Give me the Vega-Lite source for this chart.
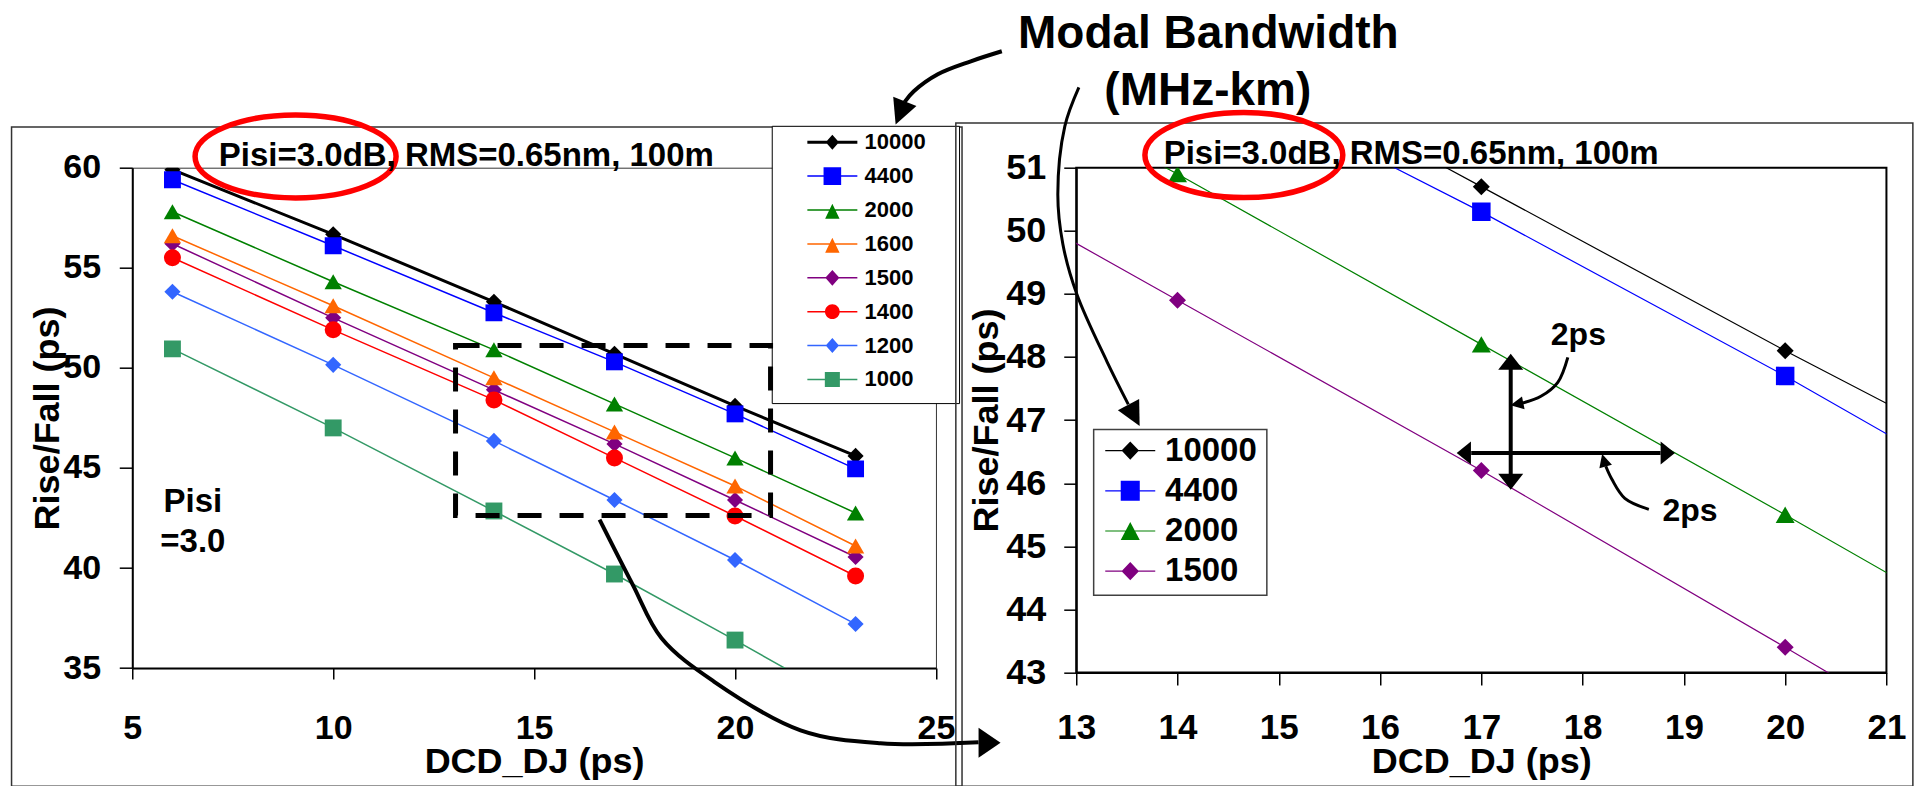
{
  "$schema": "https://vega.github.io/schema/vega-lite/v6.json",
  "background": "white",
  "padding": {"left": 10.25, "top": 9.7, "right": 0, "bottom": 0},
  "bounds": "flush",
  "spacing": 140,
  "config": {
    "font": "Liberation Sans",
    "axis": {"labelFont": "Liberation Sans", "titleFont": "Liberation Sans", "labelFontWeight": "bold", "titleFontWeight": "bold", "labelColor": "black", "titleColor": "black", "domainColor": "black", "tickColor": "black", "labelFlush": false, "labelOverlap": false, "format": "d"},
    "legend": {"labelFont": "Liberation Sans", "labelFontWeight": "bold", "labelColor": "black"}
  },
  "datasets": {
    "rf": [
      {"bw": "10000", "dcd": 6, "rf": 59.9}, {"bw": "10000", "dcd": 10, "rf": 56.67}, {"bw": "10000", "dcd": 14, "rf": 53.3}, {"bw": "10000", "dcd": 17, "rf": 50.7}, {"bw": "10000", "dcd": 20, "rf": 48.1}, {"bw": "10000", "dcd": 23, "rf": 45.6},
      {"bw": "4400", "dcd": 6, "rf": 59.4}, {"bw": "4400", "dcd": 10, "rf": 56.1}, {"bw": "4400", "dcd": 14, "rf": 52.75}, {"bw": "4400", "dcd": 17, "rf": 50.3}, {"bw": "4400", "dcd": 20, "rf": 47.7}, {"bw": "4400", "dcd": 23, "rf": 44.95},
      {"bw": "2000", "dcd": 6, "rf": 57.8}, {"bw": "2000", "dcd": 10, "rf": 54.3}, {"bw": "2000", "dcd": 14, "rf": 50.9}, {"bw": "2000", "dcd": 17, "rf": 48.2}, {"bw": "2000", "dcd": 20, "rf": 45.5}, {"bw": "2000", "dcd": 23, "rf": 42.75},
      {"bw": "1600", "dcd": 6, "rf": 56.6}, {"bw": "1600", "dcd": 10, "rf": 53.1}, {"bw": "1600", "dcd": 14, "rf": 49.5}, {"bw": "1600", "dcd": 17, "rf": 46.8}, {"bw": "1600", "dcd": 20, "rf": 44.1}, {"bw": "1600", "dcd": 23, "rf": 41.1},
      {"bw": "1500", "dcd": 6, "rf": 56.2}, {"bw": "1500", "dcd": 10, "rf": 52.5}, {"bw": "1500", "dcd": 14, "rf": 48.9}, {"bw": "1500", "dcd": 17, "rf": 46.2}, {"bw": "1500", "dcd": 20, "rf": 43.4}, {"bw": "1500", "dcd": 23, "rf": 40.55},
      {"bw": "1400", "dcd": 6, "rf": 55.5}, {"bw": "1400", "dcd": 10, "rf": 51.9}, {"bw": "1400", "dcd": 14, "rf": 48.4}, {"bw": "1400", "dcd": 17, "rf": 45.5}, {"bw": "1400", "dcd": 20, "rf": 42.6}, {"bw": "1400", "dcd": 23, "rf": 39.6},
      {"bw": "1200", "dcd": 6, "rf": 53.8}, {"bw": "1200", "dcd": 10, "rf": 50.15}, {"bw": "1200", "dcd": 14, "rf": 46.35}, {"bw": "1200", "dcd": 17, "rf": 43.4}, {"bw": "1200", "dcd": 20, "rf": 40.4}, {"bw": "1200", "dcd": 23, "rf": 37.2},
      {"bw": "1000", "dcd": 6, "rf": 50.95}, {"bw": "1000", "dcd": 10, "rf": 47.0}, {"bw": "1000", "dcd": 14, "rf": 42.85}, {"bw": "1000", "dcd": 17, "rf": 39.7}, {"bw": "1000", "dcd": 20, "rf": 36.4}, {"bw": "1000", "dcd": 23, "rf": 33.0}
    ],
    "zoomArrow": [
      {"o": 1, "dcd": 16.629, "rf": 42.419}, {"o": 2, "dcd": 17.45, "rf": 39.186}, {"o": 3, "dcd": 18.172, "rf": 36.489}, {"o": 4, "dcd": 19.466, "rf": 34.341},
      {"o": 5, "dcd": 21.631, "rf": 31.892}, {"o": 6, "dcd": 23.621, "rf": 31.243}, {"o": 7, "dcd": 26.06, "rf": 31.293}
    ],
    "bwArrowL": [
      {"o": 1, "dcd": 12.265, "rf": 52.845}, {"o": 2, "dcd": 11.959, "rf": 52.686}, {"o": 3, "dcd": 11.633, "rf": 52.48}, {"o": 4, "dcd": 11.396, "rf": 52.211}, {"o": 5, "dcd": 11.306, "rf": 52.044}
    ],
    "bwArrowR": [
      {"o": 1, "dcd": 13.026, "rf": 52.274}, {"o": 2, "dcd": 12.887, "rf": 51.656}, {"o": 3, "dcd": 12.818, "rf": 50.575}, {"o": 4, "dcd": 12.868, "rf": 49.786},
      {"o": 5, "dcd": 13.006, "rf": 48.995}, {"o": 6, "dcd": 13.302, "rf": 47.932}, {"o": 7, "dcd": 13.514, "rf": 47.25}
    ],
    "twoPsV": [
      {"o": 1, "dcd": 17.854, "rf": 47.995}, {"o": 2, "dcd": 17.755, "rf": 47.599}, {"o": 3, "dcd": 17.588, "rf": 47.377}, {"o": 4, "dcd": 17.41, "rf": 47.272}
    ],
    "twoPsH": [
      {"o": 1, "dcd": 18.654, "rf": 45.586}, {"o": 2, "dcd": 18.417, "rf": 45.761}, {"o": 3, "dcd": 18.289, "rf": 46.062}, {"o": 4, "dcd": 18.229, "rf": 46.268}
    ]
  },
  "resolve": {"scale": {"color": "independent", "shape": "independent"}},
  "hconcat": [
    {
      "width": 803.7,
      "height": 500.4,
      "view": {"stroke": "#333333", "strokeWidth": 1},
      "layer": [
        {
          "data": {"values": [{}]},
          "mark": {"type": "rect", "filled": false, "color": "#333333", "strokeWidth": 1.5},
          "encoding": {"x": {"datum": 1.996}, "x2": {"datum": 25.649}, "y": {"datum": 62.033}, "y2": {"datum": 29.095}}
        },
        {
          "data": {"name": "rf"},
          "mark": {"type": "point", "filled": true, "opacity": 0, "size": 256, "clip": true},
          "encoding": {
            "x": {"field": "dcd", "type": "quantitative", "title": "DCD_DJ (ps)", "scale": {"domain": [5, 25], "nice": false, "zero": false},
              "axis": {"values": [5, 10, 15, 20, 25], "title": "DCD_DJ (ps)", "titleFontSize": 36, "titlePadding": -1, "labelFontSize": 34, "labelPadding": 32, "tickSize": 11, "tickWidth": 1.5, "domainWidth": 2, "gridColor": "#5a5a5a", "gridWidth": 1.2}},
            "y": {"field": "rf", "type": "quantitative", "title": "Rise/Fall (ps)", "scale": {"domain": [35, 60], "nice": false, "zero": false},
              "axis": {"values": [35, 40, 45, 50, 55, 60], "title": "Rise/Fall (ps)", "titleFontSize": 36, "titlePadding": -4, "labelFontSize": 34, "labelPadding": 18.7, "tickSize": 13, "tickWidth": 1.5, "domainWidth": 2, "gridColor": "#5a5a5a", "gridWidth": 1.2}},
            "color": {"field": "bw", "type": "nominal",
              "scale": {"domain": ["10000", "4400", "2000", "1600", "1500", "1400", "1200", "1000"], "range": ["#000000", "#0000ff", "#008000", "#ff6600", "#800080", "#ff0000", "#3366ff", "#339966"]},
              "legend": {"orient": "none", "legendX": 689.1, "legendY": -36.5, "title": null, "padding": 0, "symbolSize": 256, "symbolStrokeWidth": 0, "symbolOpacity": 1, "labelFontSize": 22, "labelOffset": 21.2, "rowPadding": 11.9}},
            "shape": {"field": "bw", "type": "nominal",
              "scale": {"domain": ["10000", "4400", "2000", "1600", "1500", "1400", "1200", "1000"], "range": [
                "M -3.125 -0.19 L 3.125 -0.19 L 3.125 0.19 L -3.125 0.19 Z M 0 -0.94 L 0.83 0 L 0 0.94 L -0.83 0 Z",
                "M -3.125 -0.094 L 3.125 -0.094 L 3.125 0.094 L -3.125 0.094 Z M -1.1 -1.1 L 1.1 -1.1 L 1.1 1.1 L -1.1 1.1 Z",
                "M -3.125 -0.094 L 3.125 -0.094 L 3.125 0.094 L -3.125 0.094 Z M 0 -0.78 L 0.9 1.1 L -0.9 1.1 Z",
                "M -3.125 -0.094 L 3.125 -0.094 L 3.125 0.094 L -3.125 0.094 Z M 0 -0.78 L 0.9 1.1 L -0.9 1.1 Z",
                "M -3.125 -0.094 L 3.125 -0.094 L 3.125 0.094 L -3.125 0.094 Z M 0 -0.98 L 0.88 0 L 0 0.98 L -0.88 0 Z",
                "M -3.125 -0.094 L 3.125 -0.094 L 3.125 0.094 L -3.125 0.094 Z M 0.92 0 C 0.92 0.508 0.508 0.92 0 0.92 C -0.508 0.92 -0.92 0.508 -0.92 0 C -0.92 -0.508 -0.508 -0.92 0 -0.92 C 0.508 -0.92 0.92 -0.508 0.92 0 Z",
                "M -3.125 -0.094 L 3.125 -0.094 L 3.125 0.094 L -3.125 0.094 Z M 0 -0.94 L 0.83 0 L 0 0.94 L -0.83 0 Z",
                "M -3.125 -0.094 L 3.125 -0.094 L 3.125 0.094 L -3.125 0.094 Z M -0.94 -0.94 L 0.94 -0.94 L 0.94 0.94 L -0.94 0.94 Z"]},
              "legend": {"orient": "none", "legendX": 689.1, "legendY": -36.5, "title": null, "padding": 0, "symbolSize": 256, "symbolStrokeWidth": 0, "symbolOpacity": 1, "labelFontSize": 22, "labelOffset": 21.2, "rowPadding": 11.9}}
          }
        },
        {
          "data": {"name": "rf"},
          "transform": [{"filter": "datum.bw != '10000'"}],
          "mark": {"type": "line", "strokeWidth": 1.5, "clip": true},
          "encoding": {
            "x": {"field": "dcd", "type": "quantitative", "title": "DCD_DJ (ps)", "scale": {"domain": [5, 25], "nice": false, "zero": false}},
            "y": {"field": "rf", "type": "quantitative", "title": "Rise/Fall (ps)", "scale": {"domain": [35, 60], "nice": false, "zero": false}},
            "color": {"field": "bw", "type": "nominal"}
          }
        },
        {
          "data": {"name": "rf"},
          "transform": [{"filter": "datum.bw == '10000'"}],
          "mark": {"type": "line", "strokeWidth": 3, "clip": true},
          "encoding": {
            "x": {"field": "dcd", "type": "quantitative", "title": "DCD_DJ (ps)", "scale": {"domain": [5, 25], "nice": false, "zero": false}},
            "y": {"field": "rf", "type": "quantitative", "title": "Rise/Fall (ps)", "scale": {"domain": [35, 60], "nice": false, "zero": false}},
            "color": {"field": "bw", "type": "nominal"}
          }
        },
        {
          "data": {"name": "rf"},
          "transform": [{"filter": {"field": "bw", "oneOf": ["10000", "1500", "1200"]}}],
          "mark": {"type": "point", "shape": "diamond", "filled": true, "opacity": 1, "size": 260, "clip": true},
          "encoding": {
            "x": {"field": "dcd", "type": "quantitative", "title": "DCD_DJ (ps)", "scale": {"domain": [5, 25], "nice": false, "zero": false}},
            "y": {"field": "rf", "type": "quantitative", "title": "Rise/Fall (ps)", "scale": {"domain": [35, 60], "nice": false, "zero": false}},
            "color": {"field": "bw", "type": "nominal"}
          }
        },
        {
          "data": {"name": "rf"},
          "transform": [{"filter": {"field": "bw", "oneOf": ["4400", "1000"]}}],
          "mark": {"type": "point", "shape": "square", "filled": true, "opacity": 1, "size": 285, "clip": true},
          "encoding": {
            "x": {"field": "dcd", "type": "quantitative", "title": "DCD_DJ (ps)", "scale": {"domain": [5, 25], "nice": false, "zero": false}},
            "y": {"field": "rf", "type": "quantitative", "title": "Rise/Fall (ps)", "scale": {"domain": [35, 60], "nice": false, "zero": false}},
            "color": {"field": "bw", "type": "nominal"}
          }
        },
        {
          "data": {"name": "rf"},
          "transform": [{"filter": {"field": "bw", "oneOf": ["2000", "1600"]}}],
          "mark": {"type": "point", "shape": "triangle-up", "filled": true, "opacity": 1, "size": 300, "clip": true},
          "encoding": {
            "x": {"field": "dcd", "type": "quantitative", "title": "DCD_DJ (ps)", "scale": {"domain": [5, 25], "nice": false, "zero": false}},
            "y": {"field": "rf", "type": "quantitative", "title": "Rise/Fall (ps)", "scale": {"domain": [35, 60], "nice": false, "zero": false}},
            "color": {"field": "bw", "type": "nominal"}
          }
        },
        {
          "data": {"name": "rf"},
          "transform": [{"filter": {"field": "bw", "oneOf": ["1400"]}}],
          "mark": {"type": "point", "shape": "circle", "filled": true, "opacity": 1, "size": 289, "clip": true},
          "encoding": {
            "x": {"field": "dcd", "type": "quantitative", "title": "DCD_DJ (ps)", "scale": {"domain": [5, 25], "nice": false, "zero": false}},
            "y": {"field": "rf", "type": "quantitative", "title": "Rise/Fall (ps)", "scale": {"domain": [35, 60], "nice": false, "zero": false}},
            "color": {"field": "bw", "type": "nominal"}
          }
        },
        {
          "data": {"values": [{}]},
          "mark": {"type": "rect", "fill": "white", "stroke": "black", "strokeWidth": 1},
          "encoding": {"x": {"datum": 20.926}, "x2": {"datum": 25.587}, "y": {"datum": 62.068}, "y2": {"datum": 48.215}}
        },
        {
          "data": {"values": [{}]},
          "mark": {"type": "rect", "filled": false, "color": "black", "strokeWidth": 5, "strokeDash": [24, 18]},
          "encoding": {"x": {"datum": 13.045}, "x2": {"datum": 20.884}, "y": {"datum": 51.112}, "y2": {"datum": 42.619}}
        },
        {
          "data": {"values": [{}]},
          "mark": {"type": "point", "shape": "M 1 0 C 1 0.2276 0.5523 0.412 0 0.412 C -0.5523 0.412 -1 0.2276 -1 0 C -1 -0.2276 -0.5523 -0.412 0 -0.412 C 0.5523 -0.412 1 -0.2276 1 0 Z", "size": 40401, "filled": false, "opacity": 1, "color": "#ff0000", "strokeWidth": 5.5},
          "encoding": {"x": {"datum": 9.064}, "y": {"datum": 60.56}}
        },
        {
          "data": {"values": [{}]},
          "mark": {"type": "text", "text": "Pisi=3.0dB, RMS=0.65nm, 100m", "font": "Liberation Sans", "fontSize": 33, "fontWeight": "bold", "align": "left", "baseline": "alphabetic", "color": "black"},
          "encoding": {"x": {"datum": 7.155}, "y": {"datum": 60.07}}
        },
        {
          "data": {"values": [{}]},
          "mark": {"type": "text", "text": "Pisi", "font": "Liberation Sans", "fontSize": 33, "fontWeight": "bold", "align": "center", "baseline": "alphabetic", "color": "black"},
          "encoding": {"x": {"datum": 6.508}, "y": {"datum": 42.784}}
        },
        {
          "data": {"values": [{}]},
          "mark": {"type": "text", "text": "=3.0", "font": "Liberation Sans", "fontSize": 33, "fontWeight": "bold", "align": "center", "baseline": "alphabetic", "color": "black"},
          "encoding": {"x": {"datum": 6.508}, "y": {"datum": 40.8}}
        },
        {
          "data": {"name": "zoomArrow"},
          "mark": {"type": "line", "interpolate": "catmull-rom", "color": "black", "strokeWidth": 4},
          "encoding": {
            "x": {"field": "dcd", "type": "quantitative", "title": "DCD_DJ (ps)", "scale": {"domain": [5, 25], "nice": false, "zero": false}},
            "y": {"field": "rf", "type": "quantitative", "title": "Rise/Fall (ps)", "scale": {"domain": [35, 60], "nice": false, "zero": false}},
            "order": {"field": "o", "type": "quantitative"}
          }
        },
        {
          "data": {"values": [{}]},
          "mark": {"type": "point", "shape": "M 0 -0.733 L 1 0.733 L -1 0.733 Z", "size": 900, "angle": 90, "filled": true, "opacity": 1, "color": "black"},
          "encoding": {"x": {"datum": 26.334}, "y": {"datum": 31.268}}
        }
      ]
    },
    {
      "width": 810.2,
      "height": 504.8,
      "view": {"stroke": "black", "strokeWidth": 2},
      "layer": [
        {
          "data": {"values": [{}]},
          "mark": {"type": "rect", "filled": false, "color": "#333333", "strokeWidth": 1.5},
          "encoding": {"x": {"datum": 11.811}, "x2": {"datum": 21.261}, "y": {"datum": 51.708}, "y2": {"datum": 41.197}}
        },
        {
          "data": {"name": "rf"},
          "transform": [{"filter": {"field": "bw", "oneOf": ["10000", "4400", "2000", "1500"]}}],
          "mark": {"type": "point", "filled": true, "opacity": 0, "size": 256, "clip": true},
          "encoding": {
            "x": {"field": "dcd", "type": "quantitative", "title": "DCD_DJ (ps)", "scale": {"domain": [13, 21], "nice": false, "zero": false},
              "axis": {"values": [13, 14, 15, 16, 17, 18, 19, 20, 21], "title": "DCD_DJ (ps)", "titleFontSize": 36, "titlePadding": -1, "labelFontSize": 35, "labelPadding": 26, "tickSize": 12.5, "tickWidth": 1.5, "domainWidth": 2, "gridColor": "#262626", "gridWidth": 1.3}},
            "y": {"field": "rf", "type": "quantitative", "title": "Rise/Fall (ps)", "scale": {"domain": [43, 51], "nice": false, "zero": false},
              "axis": {"values": [43, 44, 45, 46, 47, 48, 49, 50, 51], "title": "Rise/Fall (ps)", "titleFontSize": 36, "titlePadding": 0, "labelFontSize": 36, "labelPadding": 18, "tickSize": 12.5, "tickWidth": 1.5, "domainWidth": 2, "gridColor": "#262626", "gridWidth": 1.3}},
            "color": {"field": "bw", "type": "nominal",
              "scale": {"domain": ["10000", "4400", "2000", "1500"], "range": ["#000000", "#0000ff", "#008000", "#800080"]},
              "legend": {"orient": "none", "legendX": 37.5, "legendY": 266.4, "title": null, "padding": 0, "symbolSize": 256, "symbolStrokeWidth": 0, "symbolOpacity": 1, "labelFontSize": 33, "labelOffset": 18.3, "rowPadding": 6.2}},
            "shape": {"field": "bw", "type": "nominal",
              "scale": {"domain": ["10000", "4400", "2000", "1500"], "range": [
                "M -3.125 -0.075 L 3.125 -0.075 L 3.125 0.075 L -3.125 0.075 Z M 0 -1.14 L 1.09 0 L 0 1.14 L -1.09 0 Z",
                "M -3.125 -0.075 L 3.125 -0.075 L 3.125 0.075 L -3.125 0.075 Z M -1.19 -1.25 L 1.19 -1.25 L 1.19 1.25 L -1.19 1.25 Z",
                "M -3.125 -0.075 L 3.125 -0.075 L 3.125 0.075 L -3.125 0.075 Z M 0 -1.12 L 1.19 1.12 L -1.19 1.12 Z",
                "M -3.125 -0.075 L 3.125 -0.075 L 3.125 0.075 L -3.125 0.075 Z M 0 -1.14 L 1.09 0 L 0 1.14 L -1.09 0 Z"]},
              "legend": {"orient": "none", "legendX": 37.5, "legendY": 266.4, "title": null, "padding": 0, "symbolSize": 256, "symbolStrokeWidth": 0, "symbolOpacity": 1, "labelFontSize": 33, "labelOffset": 18.3, "rowPadding": 6.2}}
          }
        },
        {
          "data": {"name": "rf"},
          "transform": [{"filter": {"field": "bw", "oneOf": ["10000", "4400", "2000", "1500"]}}],
          "mark": {"type": "line", "strokeWidth": 1.2, "clip": true},
          "encoding": {
            "x": {"field": "dcd", "type": "quantitative", "title": "DCD_DJ (ps)", "scale": {"domain": [13, 21], "nice": false, "zero": false}},
            "y": {"field": "rf", "type": "quantitative", "title": "Rise/Fall (ps)", "scale": {"domain": [43, 51], "nice": false, "zero": false}},
            "color": {"field": "bw", "type": "nominal"}
          }
        },
        {
          "data": {"name": "rf"},
          "transform": [{"filter": {"field": "bw", "oneOf": ["10000", "1500"]}}],
          "mark": {"type": "point", "shape": "diamond", "filled": true, "opacity": 1, "size": 289, "clip": true},
          "encoding": {
            "x": {"field": "dcd", "type": "quantitative", "title": "DCD_DJ (ps)", "scale": {"domain": [13, 21], "nice": false, "zero": false}},
            "y": {"field": "rf", "type": "quantitative", "title": "Rise/Fall (ps)", "scale": {"domain": [43, 51], "nice": false, "zero": false}},
            "color": {"field": "bw", "type": "nominal"}
          }
        },
        {
          "data": {"name": "rf"},
          "transform": [{"filter": {"field": "bw", "oneOf": ["4400"]}}],
          "mark": {"type": "point", "shape": "square", "filled": true, "opacity": 1, "size": 342, "clip": true},
          "encoding": {
            "x": {"field": "dcd", "type": "quantitative", "title": "DCD_DJ (ps)", "scale": {"domain": [13, 21], "nice": false, "zero": false}},
            "y": {"field": "rf", "type": "quantitative", "title": "Rise/Fall (ps)", "scale": {"domain": [43, 51], "nice": false, "zero": false}},
            "color": {"field": "bw", "type": "nominal"}
          }
        },
        {
          "data": {"name": "rf"},
          "transform": [{"filter": {"field": "bw", "oneOf": ["2000"]}}],
          "mark": {"type": "point", "shape": "triangle-up", "filled": true, "opacity": 1, "size": 361, "clip": true},
          "encoding": {
            "x": {"field": "dcd", "type": "quantitative", "title": "DCD_DJ (ps)", "scale": {"domain": [13, 21], "nice": false, "zero": false}},
            "y": {"field": "rf", "type": "quantitative", "title": "Rise/Fall (ps)", "scale": {"domain": [43, 51], "nice": false, "zero": false}},
            "color": {"field": "bw", "type": "nominal"}
          }
        },
        {
          "data": {"values": [{}]},
          "mark": {"type": "rect", "fill": "white", "stroke": "#404040", "strokeWidth": 1.5},
          "encoding": {"x": {"datum": 13.172}, "x2": {"datum": 14.882}, "y": {"datum": 46.849}, "y2": {"datum": 44.224}}
        },
        {
          "data": {"values": [{}]},
          "mark": {"type": "point", "shape": "M 1 0 C 1 0.2375 0.5523 0.43 0 0.43 C -0.5523 0.43 -1 0.2375 -1 0 C -1 -0.2375 -0.5523 -0.43 0 -0.43 C 0.5523 -0.43 1 -0.2375 1 0 Z", "size": 39164, "filled": false, "opacity": 1, "color": "#ff0000", "strokeWidth": 5.5},
          "encoding": {"x": {"datum": 14.655}, "y": {"datum": 51.201}}
        },
        {
          "data": {"values": [{}]},
          "mark": {"type": "text", "text": "Pisi=3.0dB, RMS=0.65nm, 100m", "font": "Liberation Sans", "fontSize": 33, "fontWeight": "bold", "align": "left", "baseline": "alphabetic", "color": "black"},
          "encoding": {"x": {"datum": 13.863}, "y": {"datum": 51.059}}
        },
        {
          "data": {"values": [{}]},
          "mark": {"type": "text", "text": "Modal Bandwidth", "font": "Liberation Sans", "fontSize": 46, "fontWeight": "bold", "align": "center", "baseline": "alphabetic", "color": "black"},
          "encoding": {"x": {"datum": 14.304}, "y": {"datum": 52.897}}
        },
        {
          "data": {"values": [{}]},
          "mark": {"type": "text", "text": "(MHz-km)", "font": "Liberation Sans", "fontSize": 46, "fontWeight": "bold", "align": "center", "baseline": "alphabetic", "color": "black"},
          "encoding": {"x": {"datum": 14.299}, "y": {"datum": 51.989}}
        },
        {
          "data": {"name": "bwArrowL"},
          "mark": {"type": "line", "interpolate": "catmull-rom", "color": "black", "strokeWidth": 4},
          "encoding": {
            "x": {"field": "dcd", "type": "quantitative", "title": "DCD_DJ (ps)", "scale": {"domain": [13, 21], "nice": false, "zero": false}},
            "y": {"field": "rf", "type": "quantitative", "title": "Rise/Fall (ps)", "scale": {"domain": [43, 51], "nice": false, "zero": false}},
            "order": {"field": "o", "type": "quantitative"}
          }
        },
        {
          "data": {"values": [{}]},
          "mark": {"type": "point", "shape": "M 0 -1 L 1 1 L -1 1 Z", "size": 625, "angle": 201.6, "filled": true, "opacity": 1, "color": "black"},
          "encoding": {"x": {"datum": 11.262}, "y": {"datum": 51.868}}
        },
        {
          "data": {"name": "bwArrowR"},
          "mark": {"type": "line", "interpolate": "catmull-rom", "color": "black", "strokeWidth": 3},
          "encoding": {
            "x": {"field": "dcd", "type": "quantitative", "title": "DCD_DJ (ps)", "scale": {"domain": [13, 21], "nice": false, "zero": false}},
            "y": {"field": "rf", "type": "quantitative", "title": "Rise/Fall (ps)", "scale": {"domain": [43, 51], "nice": false, "zero": false}},
            "order": {"field": "o", "type": "quantitative"}
          }
        },
        {
          "data": {"values": [{}]},
          "mark": {"type": "point", "shape": "M 0 -1 L 1 1 L -1 1 Z", "size": 576, "angle": 152.4, "filled": true, "opacity": 1, "color": "black"},
          "encoding": {"x": {"datum": 13.571}, "y": {"datum": 47.076}}
        },
        {
          "data": {"values": [{}]},
          "mark": {"type": "rule", "color": "black", "strokeWidth": 4},
          "encoding": {"x": {"datum": 17.29}, "y": {"datum": 46.1}, "y2": {"datum": 47.85}}
        },
        {
          "data": {"values": [{}]},
          "mark": {"type": "point", "shape": "M 0 -0.64 L 1 0.64 L -1 0.64 Z", "size": 625, "angle": 0, "filled": true, "opacity": 1, "color": "black"},
          "encoding": {"x": {"datum": 17.29}, "y": {"datum": 47.924}}
        },
        {
          "data": {"values": [{}]},
          "mark": {"type": "point", "shape": "M 0 -0.64 L 1 0.64 L -1 0.64 Z", "size": 625, "angle": 180, "filled": true, "opacity": 1, "color": "black"},
          "encoding": {"x": {"datum": 17.29}, "y": {"datum": 46.022}}
        },
        {
          "data": {"values": [{}]},
          "mark": {"type": "rule", "color": "black", "strokeWidth": 4},
          "encoding": {"x": {"datum": 16.9}, "x2": {"datum": 18.77}, "y": {"datum": 46.479}}
        },
        {
          "data": {"values": [{}]},
          "mark": {"type": "point", "shape": "M 0 -0.62 L 1 0.62 L -1 0.62 Z", "size": 529, "angle": 270, "filled": true, "opacity": 1, "color": "black"},
          "encoding": {"x": {"datum": 16.827}, "y": {"datum": 46.479}}
        },
        {
          "data": {"values": [{}]},
          "mark": {"type": "point", "shape": "M 0 -0.62 L 1 0.62 L -1 0.62 Z", "size": 529, "angle": 90, "filled": true, "opacity": 1, "color": "black"},
          "encoding": {"x": {"datum": 18.841}, "y": {"datum": 46.479}}
        },
        {
          "data": {"values": [{}]},
          "mark": {"type": "rect", "fill": "white"},
          "encoding": {"x": {"datum": 17.653}, "x2": {"datum": 18.311}, "y": {"datum": 48.677}, "y2": {"datum": 47.972}}
        },
        {
          "data": {"values": [{}]},
          "mark": {"type": "rect", "fill": "white"},
          "encoding": {"x": {"datum": 18.723}, "x2": {"datum": 19.385}, "y": {"datum": 45.919}, "y2": {"datum": 45.19}}
        },
        {
          "data": {"values": [{}]},
          "mark": {"type": "text", "text": "2ps", "font": "Liberation Sans", "fontSize": 32, "fontWeight": "bold", "align": "left", "baseline": "alphabetic", "color": "black"},
          "encoding": {"x": {"datum": 17.686}, "y": {"datum": 48.197}}
        },
        {
          "data": {"values": [{}]},
          "mark": {"type": "text", "text": "2ps", "font": "Liberation Sans", "fontSize": 32, "fontWeight": "bold", "align": "left", "baseline": "alphabetic", "color": "black"},
          "encoding": {"x": {"datum": 18.789}, "y": {"datum": 45.396}}
        },
        {
          "data": {"name": "twoPsV"},
          "mark": {"type": "line", "interpolate": "catmull-rom", "color": "black", "strokeWidth": 3},
          "encoding": {
            "x": {"field": "dcd", "type": "quantitative", "title": "DCD_DJ (ps)", "scale": {"domain": [13, 21], "nice": false, "zero": false}},
            "y": {"field": "rf", "type": "quantitative", "title": "Rise/Fall (ps)", "scale": {"domain": [43, 51], "nice": false, "zero": false}},
            "order": {"field": "o", "type": "quantitative"}
          }
        },
        {
          "data": {"values": [{}]},
          "mark": {"type": "point", "shape": "M 0 -1 L 1 1 L -1 1 Z", "size": 170, "angle": 258.5, "filled": true, "opacity": 1, "color": "black"},
          "encoding": {"x": {"datum": 17.351}, "y": {"datum": 47.254}}
        },
        {
          "data": {"name": "twoPsH"},
          "mark": {"type": "line", "interpolate": "catmull-rom", "color": "black", "strokeWidth": 3},
          "encoding": {
            "x": {"field": "dcd", "type": "quantitative", "title": "DCD_DJ (ps)", "scale": {"domain": [13, 21], "nice": false, "zero": false}},
            "y": {"field": "rf", "type": "quantitative", "title": "Rise/Fall (ps)", "scale": {"domain": [43, 51], "nice": false, "zero": false}},
            "order": {"field": "o", "type": "quantitative"}
          }
        },
        {
          "data": {"values": [{}]},
          "mark": {"type": "point", "shape": "M 0 -1 L 1 1 L -1 1 Z", "size": 170, "angle": 344.3, "filled": true, "opacity": 1, "color": "black"},
          "encoding": {"x": {"datum": 18.21}, "y": {"datum": 46.363}}
        }
      ]
    }
  ]
}
